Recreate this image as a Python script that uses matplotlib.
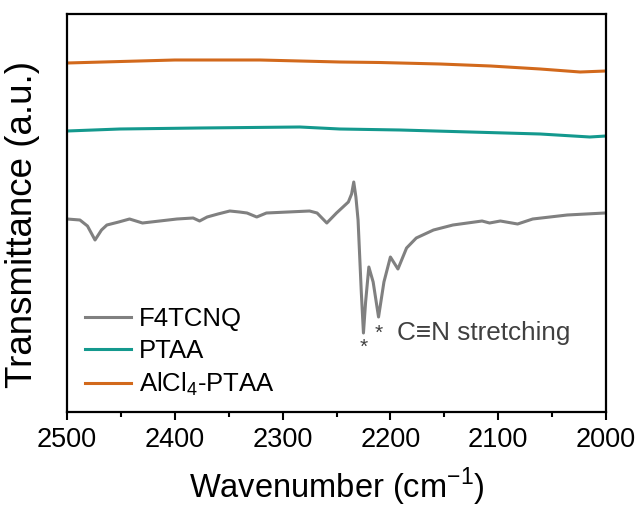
import matplotlib
matplotlib.use("Agg")
import matplotlib.pyplot as plt
from matplotlib.ticker import MultipleLocator, NullLocator

plt.rcParams['font.family'] = ['Liberation Sans', 'DejaVu Sans']
plt.rcParams['mathtext.fontset'] = 'custom'
plt.rcParams['mathtext.rm'] = 'Liberation Sans'

# wavenumber (cm-1) / transmittance (a.u.)
wn_f4 = [2500, 2488, 2481, 2474, 2468, 2463, 2452, 2442, 2430, 2414, 2398, 2383,
         2377, 2370, 2360, 2349, 2340, 2333, 2324, 2315, 2295, 2275, 2268, 2259,
         2250, 2239, 2236, 2234, 2232, 2230, 2227, 2225, 2223, 2220, 2216, 2211,
         2206, 2200, 2193, 2185, 2176, 2160, 2142, 2115, 2108, 2098, 2082, 2068,
         2036, 2001]
t_f4 = [193, 192, 186, 172, 182, 187, 190, 193, 189, 191, 193, 194,
        191, 195, 198, 201, 200, 199, 195, 199, 200, 201, 199, 189,
        199, 210, 218, 230, 215, 192, 120, 79, 110, 145, 130, 95,
        130, 155, 143, 164, 174, 182, 187, 191, 189, 191, 188, 193,
        197, 199]

wn_ptaa = [2500, 2451, 2377, 2284, 2247, 2191, 2126, 2061, 2015, 2000]
t_ptaa = [281, 283, 284, 285, 283, 282, 280, 278, 275, 276]

wn_alcl = [2500, 2400, 2321, 2247, 2210, 2154, 2107, 2061, 2024, 2000]
t_alcl = [349, 352, 352, 350, 349.5, 348, 346, 343, 340, 341]

fig = plt.figure(figsize=(6.41, 5.08), dpi=100)
ax = fig.add_axes([67 / 641, 1 - 412 / 508, 539 / 641, 398 / 508])

ax.plot(wn_f4, t_f4, color='#808080', lw=2.2, label='F4TCNQ')
ax.plot(wn_ptaa, t_ptaa, color='#14998e', lw=2.2, label='PTAA')
ax.plot(wn_alcl, t_alcl, color='#d2691c', lw=2.2, label='AlCl$_4$-PTAA')

ax.set_xlim(2500, 2000)
ax.set_ylim(0, 398)
ax.xaxis.set_major_locator(MultipleLocator(100))
ax.xaxis.set_minor_locator(MultipleLocator(50))
ax.yaxis.set_major_locator(NullLocator())
ax.tick_params(axis='x', which='major', direction='out', length=6, width=1.5, labelsize=19.5, pad=5)
ax.tick_params(axis='x', which='minor', direction='out', length=3.5, width=1.5)
for s in ax.spines.values():
    s.set_linewidth(1.6)

ax.set_xlabel('Wavenumber (cm$^{-1}$)', fontsize=23.5, labelpad=9)
ax.set_ylabel('Transmittance (a.u.)', fontsize=26.5)
ax.yaxis.set_label_coords(-0.05, 0.47)

# C≡N annotation
ax.text(2225, 65, '*', ha='center', va='center', fontsize=15, color='#404040')
ax.text(2211, 79, '*', ha='center', va='center', fontsize=15, color='#404040')
ax.text(2194, 79, 'C\u2261N stretching', ha='left', va='center', fontsize=18.8,
        color='#404040')

ax.legend(loc='lower left', bbox_to_anchor=(0.0, -0.01), frameon=False, fontsize=18.5,
          handlelength=1.8, handletextpad=0.3, labelspacing=0.3, borderaxespad=0.3)

fig.savefig('out.png', dpi=100)
